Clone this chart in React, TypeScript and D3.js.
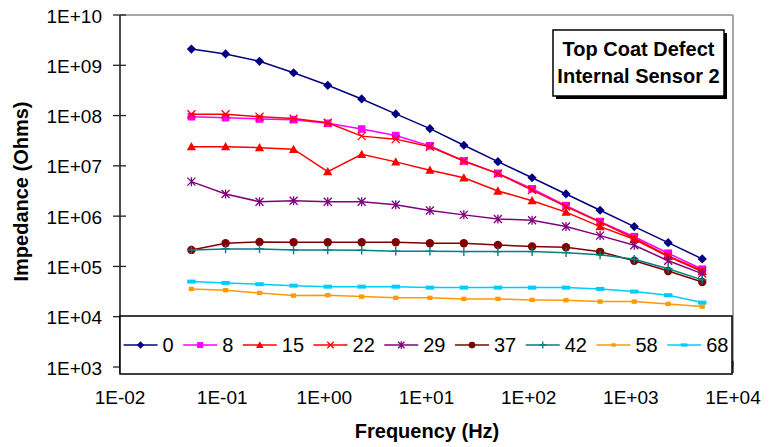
import React from 'react'
import * as d3 from 'd3'

// frequency points (Hz), 3 per decade
const freqHz = [0.05, 0.108, 0.232, 0.5, 1.08, 2.32, 5, 10.8, 23.2, 50, 108, 232, 500, 1080, 2320, 5000]

// impedance (Ohms) per exposure label
const imp0 = [2.1e9, 1.68e9, 1.2e9, 7.1e8, 4.0e8, 2.14e8, 1.08e8, 5.5e7, 2.57e7, 1.21e7, 5.8e6, 2.76e6, 1.31e6, 6.2e5, 2.97e5, 1.41e5]
const imp8 = [9.5e7, 9.1e7, 8.55e7, 8.3e7, 7.0e7, 5.4e7, 4.0e7, 2.5e7, 1.25e7, 7.1e6, 3.5e6, 1.62e6, 7.8e5, 3.9e5, 1.83e5, 8.8e4]
const imp15 = [2.41e7, 2.41e7, 2.3e7, 2.14e7, 7.7e6, 1.7e7, 1.2e7, 8.2e6, 5.8e6, 3.17e6, 2.03e6, 1.2e6, 6.2e5, 3.47e5, 1.57e5, 7.9e4]
const imp22 = [1.06e8, 1.06e8, 9.5e7, 8.7e7, 7.2e7, 3.9e7, 3.4e7, 2.4e7, 1.25e7, 7.0e6, 3.3e6, 1.55e6, 7.6e5, 3.64e5, 1.62e5, 8.2e4]
const imp29 = [4.85e6, 2.76e6, 1.94e6, 2.03e6, 1.94e6, 1.94e6, 1.69e6, 1.29e6, 1.06e6, 8.8e5, 8.3e5, 6.2e5, 4.1e5, 2.64e5, 1.3e5, 7.2e4]
const imp37 = [2.13e5, 2.89e5, 3.07e5, 3.03e5, 3.03e5, 3.03e5, 3.03e5, 2.89e5, 2.89e5, 2.67e5, 2.5e5, 2.4e5, 1.95e5, 1.3e5, 8.1e4, 4.9e4]
const imp42 = [2.13e5, 2.23e5, 2.23e5, 2.13e5, 2.13e5, 2.1e5, 2.0e5, 2.0e5, 1.97e5, 1.97e5, 1.97e5, 1.88e5, 1.7e5, 1.39e5, 9.0e4, 5.4e4]
const imp58 = [3.57e4, 3.37e4, 2.97e4, 2.63e4, 2.68e4, 2.51e4, 2.37e4, 2.37e4, 2.26e4, 2.26e4, 2.16e4, 2.13e4, 2.0e4, 2.0e4, 1.8e4, 1.59e4]
const imp68 = [4.99e4, 4.7e4, 4.43e4, 4.15e4, 3.96e4, 3.96e4, 3.96e4, 3.79e4, 3.79e4, 3.79e4, 3.79e4, 3.79e4, 3.57e4, 3.16e4, 2.68e4, 1.91e4]

const seriesLabels = ['0', '8', '15', '22', '29', '37', '42', '58', '68']
const seriesValues = [imp0, imp8, imp15, imp22, imp29, imp37, imp42, imp58, imp68]

const xTickLabels = ['1E-02', '1E-01', '1E+00', '1E+01', '1E+02', '1E+03', '1E+04']
const yTickLabels = ['1E+03', '1E+04', '1E+05', '1E+06', '1E+07', '1E+08', '1E+09', '1E+10']

// look of each series
const colors = ['#000080', '#FF00FF', '#FF0000', '#FF0000', '#800080', '#800000', '#008080', '#FF9900', '#00CCFF']
const markers = ['diamond', 'square', 'triangle', 'x', 'star', 'circle', 'plus', 'smallsq', 'dash']

const FONT = '"Liberation Sans", Arial, sans-serif'

// marker shapes, s = scale
function Marker({ type, color, cx, cy, s = 1 }) {
  const t = `translate(${cx},${cy})`
  if (type === 'diamond') {
    const r = 4.6 * s
    return <path transform={t} d={`M0,${-r}L${r},0L0,${r}L${-r},0Z`} fill={color} />
  }
  if (type === 'square') {
    const r = 3.8 * s
    return <rect x={cx - r} y={cy - r} width={2 * r} height={2 * r} fill={color} />
  }
  if (type === 'triangle') {
    const r = 4.6 * s
    return <path transform={t} d={`M0,${-r}L${r},${r * 0.8}L${-r},${r * 0.8}Z`} fill={color} />
  }
  if (type === 'x') {
    const r = 4 * s
    return <path transform={t} d={`M${-r},${-r}L${r},${r}M${-r},${r}L${r},${-r}`} stroke={color} strokeWidth={1.3} fill="none" />
  }
  if (type === 'star') {
    const r = 4 * s
    return <path transform={t} d={`M${-r},${-r}L${r},${r}M${-r},${r}L${r},${-r}M0,${-r - 0.5}L0,${r + 0.5}`} stroke={color} strokeWidth={1.3} fill="none" />
  }
  if (type === 'circle') {
    return <circle cx={cx} cy={cy} r={4.2 * s} fill={color} />
  }
  if (type === 'plus') {
    const r = 4.3 * s
    return <path transform={t} d={`M${-r},0L${r},0M0,${-r}L0,${r}`} stroke={color} strokeWidth={1.4} fill="none" />
  }
  if (type === 'smallsq') {
    return <rect x={cx - 2.6 * s} y={cy - 2.2 * s} width={5.2 * s} height={4.4 * s} fill={color} />
  }
  // dash
  return <rect x={cx - 4.2 * s} y={cy - 2 * s} width={8.4 * s} height={4 * s} fill={color} />
}

export default function App() {
  const W = 772
  const H = 447
  const left = 120
  const right = 733
  const top = 15
  const bottom = 367

  const x = d3.scaleLog().domain([1e-2, 1e4]).range([left, right])
  const y = d3.scaleLog().domain([1e3, 1e10]).range([bottom, top])

  const line = d3.line<number>()
    .x((d, i) => x(freqHz[i]))
    .y((d) => y(d))

  // legend layout: flowing entries, centred in the box
  const legX = 120, legY = 316, legW = 612, legH = 58
  const digitW = 11.12
  const widths = seriesLabels.map((l) => 34 + 5 + l.length * digitW)
  const gap = 9.5
  const total = d3.sum(widths) + gap * (widths.length - 1)
  let cursor = legX + (legW - total) / 2
  const legItems = seriesLabels.map((l, i) => {
    const x0 = cursor
    cursor += widths[i] + gap
    return { label: l, x0, i }
  })
  const legCy = legY + legH / 2

  return (
    <div style={{ position: 'fixed', left: 0, top: 0 }}>
      <svg width={W} height={H} style={{ display: 'block', background: '#fff' }} fontFamily={FONT}>
        {/* plot frame */}
        <line x1={left} x2={right} y1={top} y2={top} stroke="#a6a6a6" strokeWidth={2} />
        <line x1={right} x2={right} y1={top} y2={bottom} stroke="#a6a6a6" strokeWidth={2} />
        <line x1={left} x2={right} y1={bottom} y2={bottom} stroke="#000" strokeWidth={1.5} />
        <line x1={left} x2={left} y1={top} y2={bottom} stroke="#4d4d4d" strokeWidth={2} />

        {/* y axis ticks + labels */}
        {yTickLabels.map((lab) => (
          <g key={lab}>
            <line x1={left - 7} x2={left + 6} y1={y(+lab)} y2={y(+lab)} stroke="#222" strokeWidth={1.3} />
            <text x={102} y={y(+lab)} dy="0.4em" textAnchor="end" fontSize={19} fill="#000">{lab}</text>
          </g>
        ))}

        {/* x axis ticks + labels */}
        {xTickLabels.map((lab) => (
          <g key={lab}>
            <line x1={x(+lab)} x2={x(+lab)} y1={bottom - 6} y2={bottom + 6} stroke="#222" strokeWidth={1.3} />
            <text x={x(+lab)} y={404} textAnchor="middle" fontSize={19} fill="#000">{lab}</text>
          </g>
        ))}

        {/* series */}
        {seriesValues.map((vals, si) => (
          <g key={seriesLabels[si]}>
            <path d={line(vals)} fill="none" stroke={colors[si]} strokeWidth={1.5} />
            {vals.map((v, i) => (
              <Marker key={i} type={markers[si]} color={colors[si]} cx={x(freqHz[i])} cy={y(v)} />
            ))}
          </g>
        ))}

        {/* title box */}
        <rect x={556} y={33} width={171} height={66} fill="#000" />
        <rect x={553} y={30} width={171} height={66} fill="#fff" stroke="#000" strokeWidth={1.5} />
        <text x={638.5} y={55.7} textAnchor="middle" fontSize={20} fontWeight="bold">Top Coat Defect</text>
        <text x={638.5} y={82.7} textAnchor="middle" fontSize={20} fontWeight="bold">Internal Sensor 2</text>

        {/* legend */}
        <rect x={legX} y={legY} width={legW} height={legH} fill="#fff" stroke="#000" strokeWidth={1.5} />
        {legItems.map((it) => (
          <g key={it.label}>
            <line x1={it.x0} x2={it.x0 + 34} y1={legCy} y2={legCy} stroke={colors[it.i]} strokeWidth={1.5} />
            <Marker type={markers[it.i]} color={colors[it.i]} cx={it.x0 + 17} cy={legCy} s={0.8} />
            <text x={it.x0 + 39} y={legCy + 7} fontSize={20} fill="#000">{it.label}</text>
          </g>
        ))}

        {/* axis titles */}
        <text x={427} y={437.5} textAnchor="middle" fontSize={20} fontWeight="bold">Frequency (Hz)</text>
        <text transform={`translate(28,191.5) rotate(-90)`} textAnchor="middle" fontSize={20} fontWeight="bold">Impedance (Ohms)</text>
      </svg>
    </div>
  )
}
